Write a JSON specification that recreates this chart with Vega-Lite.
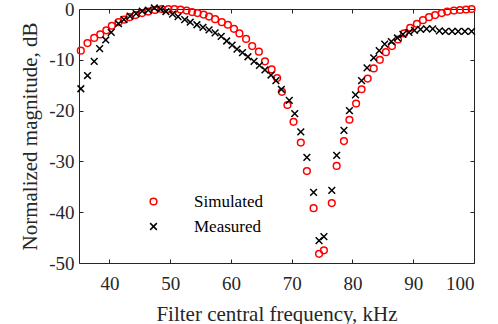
{
  "$schema": "https://vega.github.io/schema/vega-lite/v6.json",
  "width": 395,
  "height": 254,
  "autosize": {"type": "none"},
  "padding": {"left": 79, "top": 9, "right": 24, "bottom": 61},
  "background": "white",
  "config": {
    "view": {"stroke": null},
    "font": "Liberation Serif",
    "axis": {
      "domainColor": "#262626",
      "tickColor": "#262626",
      "labelColor": "#262626",
      "titleColor": "#262626",
      "domainWidth": 1,
      "tickWidth": 1,
      "tickSize": -4,
      "grid": false,
      "labelFont": "Liberation Serif",
      "titleFont": "Liberation Serif",
      "labelFontSize": 19,
      "titleFontSize": 21,
      "titleFontWeight": "normal"
    }
  },
  "data": {
    "values": [
      {"f": 35.3, "m": -8.2, "s": "Simulated"},
      {"f": 36.4, "m": -6.7, "s": "Simulated"},
      {"f": 37.5, "m": -5.7, "s": "Simulated"},
      {"f": 38.5, "m": -5.0, "s": "Simulated"},
      {"f": 39.5, "m": -4.2, "s": "Simulated"},
      {"f": 40.4, "m": -3.3, "s": "Simulated"},
      {"f": 41.5, "m": -2.6, "s": "Simulated"},
      {"f": 42.4, "m": -2.1, "s": "Simulated"},
      {"f": 43.3, "m": -1.6, "s": "Simulated"},
      {"f": 44.3, "m": -1.2, "s": "Simulated"},
      {"f": 45.4, "m": -0.8, "s": "Simulated"},
      {"f": 46.4, "m": -0.5, "s": "Simulated"},
      {"f": 47.5, "m": -0.2, "s": "Simulated"},
      {"f": 48.6, "m": 0, "s": "Simulated"},
      {"f": 49.7, "m": 0, "s": "Simulated"},
      {"f": 50.7, "m": 0, "s": "Simulated"},
      {"f": 51.7, "m": -0.1, "s": "Simulated"},
      {"f": 52.7, "m": -0.3, "s": "Simulated"},
      {"f": 53.6, "m": -0.6, "s": "Simulated"},
      {"f": 54.5, "m": -0.8, "s": "Simulated"},
      {"f": 55.5, "m": -1.1, "s": "Simulated"},
      {"f": 56.4, "m": -1.5, "s": "Simulated"},
      {"f": 57.4, "m": -2.0, "s": "Simulated"},
      {"f": 58.5, "m": -2.6, "s": "Simulated"},
      {"f": 59.5, "m": -3.1, "s": "Simulated"},
      {"f": 60.5, "m": -3.9, "s": "Simulated"},
      {"f": 61.4, "m": -4.8, "s": "Simulated"},
      {"f": 62.5, "m": -5.9, "s": "Simulated"},
      {"f": 63.5, "m": -7.3, "s": "Simulated"},
      {"f": 64.6, "m": -8.4, "s": "Simulated"},
      {"f": 65.6, "m": -10.3, "s": "Simulated"},
      {"f": 66.7, "m": -11.9, "s": "Simulated"},
      {"f": 67.6, "m": -13.6, "s": "Simulated"},
      {"f": 68.4, "m": -16.3, "s": "Simulated"},
      {"f": 69.3, "m": -18.9, "s": "Simulated"},
      {"f": 70.3, "m": -22.2, "s": "Simulated"},
      {"f": 71.5, "m": -26.3, "s": "Simulated"},
      {"f": 72.5, "m": -31.9, "s": "Simulated"},
      {"f": 73.6, "m": -39.2, "s": "Simulated"},
      {"f": 74.5, "m": -48.2, "s": "Simulated"},
      {"f": 75.3, "m": -47.5, "s": "Simulated"},
      {"f": 76.6, "m": -38.2, "s": "Simulated"},
      {"f": 77.4, "m": -30.9, "s": "Simulated"},
      {"f": 78.6, "m": -26.0, "s": "Simulated"},
      {"f": 79.5, "m": -21.8, "s": "Simulated"},
      {"f": 80.6, "m": -18.6, "s": "Simulated"},
      {"f": 81.5, "m": -15.8, "s": "Simulated"},
      {"f": 82.5, "m": -13.7, "s": "Simulated"},
      {"f": 83.5, "m": -11.7, "s": "Simulated"},
      {"f": 84.5, "m": -10.0, "s": "Simulated"},
      {"f": 85.5, "m": -8.5, "s": "Simulated"},
      {"f": 86.5, "m": -7.3, "s": "Simulated"},
      {"f": 87.5, "m": -6.0, "s": "Simulated"},
      {"f": 88.5, "m": -4.8, "s": "Simulated"},
      {"f": 89.5, "m": -3.7, "s": "Simulated"},
      {"f": 90.6, "m": -2.9, "s": "Simulated"},
      {"f": 91.6, "m": -2.2, "s": "Simulated"},
      {"f": 92.6, "m": -1.6, "s": "Simulated"},
      {"f": 93.6, "m": -1.2, "s": "Simulated"},
      {"f": 94.7, "m": -0.8, "s": "Simulated"},
      {"f": 95.6, "m": -0.5, "s": "Simulated"},
      {"f": 96.7, "m": -0.3, "s": "Simulated"},
      {"f": 97.7, "m": -0.2, "s": "Simulated"},
      {"f": 98.7, "m": -0.1, "s": "Simulated"},
      {"f": 99.6, "m": 0, "s": "Simulated"},
      {"f": 35.3, "m": -15.7, "s": "Measured"},
      {"f": 36.4, "m": -13.1, "s": "Measured"},
      {"f": 37.5, "m": -10.3, "s": "Measured"},
      {"f": 38.4, "m": -7.8, "s": "Measured"},
      {"f": 39.4, "m": -6.1, "s": "Measured"},
      {"f": 40.3, "m": -4.6, "s": "Measured"},
      {"f": 41.5, "m": -2.9, "s": "Measured"},
      {"f": 42.4, "m": -2.1, "s": "Measured"},
      {"f": 43.4, "m": -1.4, "s": "Measured"},
      {"f": 44.4, "m": -0.9, "s": "Measured"},
      {"f": 45.4, "m": -0.4, "s": "Measured"},
      {"f": 46.4, "m": -0.2, "s": "Measured"},
      {"f": 47.4, "m": 0.2, "s": "Measured"},
      {"f": 48.4, "m": 0, "s": "Measured"},
      {"f": 49.3, "m": -0.5, "s": "Measured"},
      {"f": 50.4, "m": -1.0, "s": "Measured"},
      {"f": 51.3, "m": -1.5, "s": "Measured"},
      {"f": 52.4, "m": -2.1, "s": "Measured"},
      {"f": 53.3, "m": -2.6, "s": "Measured"},
      {"f": 54.4, "m": -3.1, "s": "Measured"},
      {"f": 55.4, "m": -3.6, "s": "Measured"},
      {"f": 56.4, "m": -4.1, "s": "Measured"},
      {"f": 57.4, "m": -4.7, "s": "Measured"},
      {"f": 58.4, "m": -5.4, "s": "Measured"},
      {"f": 59.3, "m": -6.3, "s": "Measured"},
      {"f": 60.2, "m": -7.1, "s": "Measured"},
      {"f": 61.0, "m": -7.9, "s": "Measured"},
      {"f": 61.9, "m": -8.6, "s": "Measured"},
      {"f": 62.8, "m": -9.4, "s": "Measured"},
      {"f": 63.8, "m": -10.3, "s": "Measured"},
      {"f": 64.7, "m": -11.1, "s": "Measured"},
      {"f": 65.6, "m": -12.0, "s": "Measured"},
      {"f": 66.6, "m": -13.0, "s": "Measured"},
      {"f": 67.4, "m": -14.1, "s": "Measured"},
      {"f": 68.3, "m": -15.8, "s": "Measured"},
      {"f": 69.6, "m": -18.0, "s": "Measured"},
      {"f": 70.5, "m": -20.6, "s": "Measured"},
      {"f": 71.5, "m": -24.2, "s": "Measured"},
      {"f": 72.5, "m": -29.2, "s": "Measured"},
      {"f": 73.6, "m": -36.1, "s": "Measured"},
      {"f": 74.5, "m": -45.6, "s": "Measured"},
      {"f": 75.3, "m": -44.8, "s": "Measured"},
      {"f": 76.6, "m": -35.7, "s": "Measured"},
      {"f": 77.4, "m": -28.8, "s": "Measured"},
      {"f": 78.6, "m": -23.9, "s": "Measured"},
      {"f": 79.5, "m": -20.0, "s": "Measured"},
      {"f": 80.5, "m": -16.9, "s": "Measured"},
      {"f": 81.5, "m": -14.1, "s": "Measured"},
      {"f": 82.4, "m": -11.6, "s": "Measured"},
      {"f": 83.5, "m": -9.6, "s": "Measured"},
      {"f": 84.4, "m": -8.2, "s": "Measured"},
      {"f": 85.3, "m": -6.9, "s": "Measured"},
      {"f": 86.4, "m": -6.4, "s": "Measured"},
      {"f": 87.4, "m": -5.7, "s": "Measured"},
      {"f": 88.3, "m": -5.0, "s": "Measured"},
      {"f": 89.3, "m": -4.6, "s": "Measured"},
      {"f": 90.2, "m": -4.2, "s": "Measured"},
      {"f": 91.2, "m": -4.0, "s": "Measured"},
      {"f": 92.2, "m": -3.9, "s": "Measured"},
      {"f": 93.2, "m": -3.9, "s": "Measured"},
      {"f": 94.3, "m": -4.3, "s": "Measured"},
      {"f": 95.3, "m": -4.4, "s": "Measured"},
      {"f": 96.4, "m": -4.4, "s": "Measured"},
      {"f": 97.4, "m": -4.4, "s": "Measured"},
      {"f": 98.5, "m": -4.4, "s": "Measured"},
      {"f": 99.6, "m": -4.4, "s": "Measured"}
    ]
  },
  "layer": [
    {
      "mark": {"type": "point", "filled": false, "strokeWidth": 1.5, "size": 45, "opacity": 1, "clip": false},
      "encoding": {
        "x": {
          "field": "f", "type": "quantitative",
          "scale": {"domain": [35, 100], "nice": false, "zero": false},
          "axis": {"orient": "bottom", "values": [40, 50, 60, 70, 80, 90, 100], "title": "Filter central frequency, kHz", "labelFont": "Liberation Serif", "labelFontSize": 19, "labelPadding": 15, "titlePadding": 10}
        },
        "y": {
          "field": "m", "type": "quantitative",
          "scale": {"domain": [-50, 0], "nice": false, "zero": false},
          "axis": {"orient": "left", "values": [-50, -40, -30, -20, -10, 0], "labelExpr": "datum.value + ''", "title": "Normalized magnitude, dB", "labelFont": "Liberation Serif", "labelFontSize": 19, "labelPadding": 9, "titlePadding": 8}
        },
        "color": {
          "field": "s", "type": "nominal",
          "scale": {"domain": ["Simulated", "Measured"], "range": ["#FF0000", "#000000"]},
          "legend": {"orient": "none", "legendX": 66, "legendY": 184, "title": null, "labelFont": "Liberation Serif", "labelFontSize": 17, "labelColor": "#000000", "symbolStrokeWidth": 1.5, "symbolSize": 45, "labelOffset": 32, "rowPadding": 7, "padding": 0, "symbolFillColor": "transparent"}
        },
        "shape": {
          "field": "s", "type": "nominal",
          "scale": {"domain": ["Simulated", "Measured"], "range": ["circle", "M-1,-1L1,1M-1,1L1,-1"]},
          "legend": {"orient": "none", "legendX": 66, "legendY": 184, "title": null, "labelFont": "Liberation Serif", "labelFontSize": 17, "labelColor": "#000000", "symbolStrokeWidth": 1.5, "symbolSize": 45, "labelOffset": 32, "rowPadding": 7, "padding": 0, "symbolFillColor": "transparent"}
        }
      }
    },
    {
      "mark": {"type": "point", "opacity": 0},
      "encoding": {
        "x": {
          "field": "f", "type": "quantitative",
          "axis": {"orient": "top", "values": [40, 50, 60, 70, 80, 90, 100], "labels": false, "title": null}
        },
        "y": {
          "field": "m", "type": "quantitative",
          "axis": {"orient": "right", "values": [-50, -40, -30, -20, -10, 0], "labels": false, "title": null}
        }
      }
    }
  ],
  "resolve": {"axis": {"x": "independent", "y": "independent"}}
}
